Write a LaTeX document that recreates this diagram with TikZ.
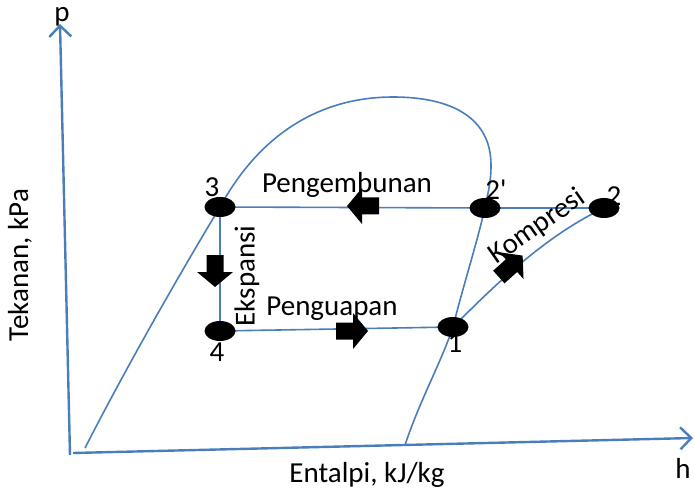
\documentclass[tikz,border=0pt]{standalone}
\usepackage{fontspec}
\setmainfont{Carlito}
\usetikzlibrary{arrows.meta,backgrounds,shapes.geometric}
\definecolor{lineblue}{HTML}{4A7EBB}
\tikzset{
  curve/.style={draw=lineblue,line width=1.6pt},
  axis/.style={draw=lineblue,line width=2.4pt,-{Straight Barb[length=11pt,width=22pt,line width=2.4pt]}},
  state/.style={ellipse,fill=black,minimum width=31pt,minimum height=20pt,inner sep=0pt},
  lbl/.style={font=\fontsize{29}{32}\selectfont,inner sep=0pt},
  blockarrow/.pic={\fill[black] (-15,-8.5) -- (2,-8.5) -- (2,-18) -- (17,0) -- (2,18) -- (2,8.5) -- (-15,8.5) -- cycle;}
}
\begin{document}
\begin{tikzpicture}[x=1pt,y=-1pt]
\useasboundingbox (0,0) rectangle (694,492);
% axes
\coordinate (o) at (70,455);
\coordinate (ptop) at (60,24);
\coordinate (xo) at (73,453);
\coordinate (htop) at (693,438);
\draw[axis] (o) -- (ptop);
\draw[axis] (xo) -- (htop);
% state points
\node[state] (s3) at (220,207) {};
\node[state] (s2p) at (485,208) {};
\node[state] (s2) at (604,208) {};
\node[state] (s4) at (220,331) {};
\node[state] (s1) at (453,327) {};
\coordinate (liqbot) at (85,448);
\coordinate (vapbot) at (405,445);
\begin{scope}[on background layer]
% saturation dome
\draw[curve] (liqbot) .. controls (130,360) and (185,265) .. (s3.center)
  .. controls (265,125) and (330,97) .. (393,97)
  .. controls (452,97) and (491,118) .. (491,165)
  .. controls (491,185) and (487,196) .. (s2p.center)
  .. controls (475,250) and (462,290) .. (s1.center)
  .. controls (440,365) and (420,400) .. (vapbot);
% cycle
\draw[curve] (s3.center) -- (s2p.center) -- (s2.center);
\draw[curve] (s3.center) -- (s4.center);
\draw[curve] (s4.center) -- (s1.center);
\draw[curve] (s1.center) .. controls (495,285) and (545,236) .. (s2.center);
\end{scope}
% block arrows
\pic[rotate=180] at (364,206) {blockarrow};
\pic[rotate=-90] at (215,270) {blockarrow};
\pic at (351,331) {blockarrow};
\pic[rotate=42] at (510,267) {blockarrow};
% labels
\node[lbl] (lp) at (62,17) {p};
\node[lbl] (lh) at (683,468) {h};
\node[lbl] (lx) at (367,475) {Entalpi, kJ/kg};
\node[lbl,rotate=90] (ly) at (20,265) {Tekanan, kPa};
\node[lbl] (l3) at (212,187) {3};
\node[lbl] (l2p) at (496,190) {2\textquotesingle};
\node[lbl] (l2) at (614,196) {2};
\node[lbl] (l4) at (217,352) {4};
\node[lbl] (l1) at (455,343) {1};
\node[lbl] (tc) at (347,185) {Pengembunan};
\node[lbl] (te) at (332,309) {Penguapan};
\node[lbl,rotate=90] (tx) at (247,276) {Ekspansi};
\node[lbl,rotate=35] (tk) at (537,227) {Kompresi};
\end{tikzpicture}
\end{document}
